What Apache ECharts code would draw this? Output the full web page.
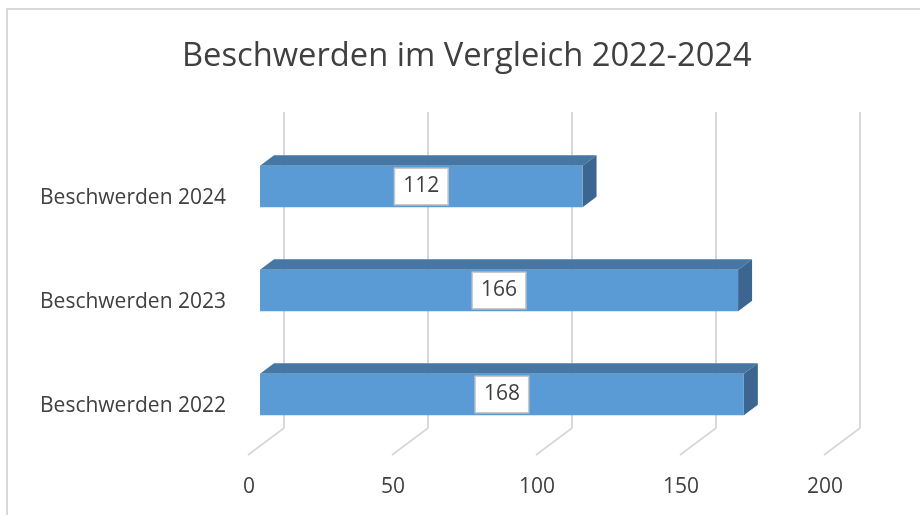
<!DOCTYPE html>
<html lang="de">
<head>
    <meta charset="utf-8">
    <title>Beschwerden im Vergleich 2022-2024</title>
    <script src="https://cdn.jsdelivr.net/npm/echarts@6/dist/echarts.min.js"></script>
    <style>
        html, body { margin: 0; padding: 0; background: #fff; }
        #chart { width: 920px; height: 515px; }
    </style>
</head>
<body>
<div id="chart"></div>
<script>
// data (bottom to top, like the category axis)
var categories = ['Beschwerden 2022', 'Beschwerden 2023', 'Beschwerden 2024'];
var values = [168, 166, 112];
var tickValues = [0, 50, 100, 150, 200];

var FONT = '"Open Sans", "Noto Sans", sans-serif';
var TXT = '#404040';
// 3d look: depth offsets in px
var DX = 14, DY = -10.5;

var chart = echarts.init(document.getElementById('chart'));

// back wall gridlines + floor diagonals
function renderWall(params, api) {
    var cs = params.coordSys;
    var x = api.coord([api.value(0), 0])[0] + 24;
    var yTop = cs.y - 22.5;
    var yBot = cs.y + cs.height - 18.5;
    var st = { stroke: '#d9d9d9', lineWidth: 2 };
    return {
        type: 'group',
        children: [
            { type: 'line', shape: { x1: x, y1: yTop, x2: x, y2: yBot }, style: st },
            { type: 'line', shape: { x1: x, y1: yBot, x2: x - 36, y2: yBot + 27 }, style: st }
        ]
    };
}

// bar drawn as front face + top face + right side
function renderBar(params, api) {
    var v = api.value(0);
    var p0 = api.coord([0, api.value(1)]);
    var p1 = api.coord([v, api.value(1)]);
    var h = api.size([0, 1])[1] * 0.4;
    var x0 = p0[0], x1 = p1[0];
    var yT = p0[1] - h / 2, yB = p0[1] + h / 2;
    return {
        type: 'group',
        children: [
            { type: 'polygon', shape: { points: [[x0, yT], [x1, yT], [x1 + DX, yT + DY], [x0 + DX, yT + DY]] },
              style: { fill: '#4676a3' } },
            { type: 'polygon', shape: { points: [[x1, yT], [x1 + DX, yT + DY], [x1 + DX, yB + DY], [x1, yB]] },
              style: { fill: '#3c6690' } },
            { type: 'rect', shape: { x: x0, y: yT, width: x1 - x0, height: h },
              style: { fill: '#5b9bd5' } },
            { type: 'text', x: (x0 + x1) / 2, y: p0[1],
              style: {
                  text: String(v), font: '21px ' + FONT, fill: TXT,
                  align: 'center', verticalAlign: 'middle',
                  backgroundColor: '#fff', borderColor: '#c9c9c9', borderWidth: 1.5,
                  padding: [8, 8, 6, 8]
              } }
        ]
    };
}

var option = {
    animation: false,
    title: {
        text: 'Beschwerden im Vergleich 2022-2024',
        left: 177,
        top: 35,
        textStyle: { fontFamily: FONT, fontSize: 32.7, fontWeight: 'normal', color: TXT }
    },
    graphic: [
        { type: 'line', shape: { x1: 6, y1: 9, x2: 920, y2: 9 }, style: { stroke: '#d9d9d9', lineWidth: 2 } },
        { type: 'line', shape: { x1: 7, y1: 8, x2: 7, y2: 515 }, style: { stroke: '#d9d9d9', lineWidth: 2 } }
    ],
    grid: { left: 260, width: 576, top: 134.5, height: 312 },
    xAxis: {
        type: 'value', min: 0, max: 200, interval: 50,
        axisLine: { show: false }, axisTick: { show: false }, splitLine: { show: false },
        axisLabel: { color: TXT, fontFamily: FONT, fontSize: 21, margin: 30, padding: [0, 22, 0, 0] }
    },
    yAxis: {
        type: 'category', data: categories,
        axisLine: { show: false }, axisTick: { show: false },
        axisLabel: { color: TXT, fontFamily: FONT, fontSize: 21, margin: 34,
                     verticalAlign: 'top', lineHeight: 23 }
    },
    series: [{
        type: 'custom',
        renderItem: renderWall,
        data: tickValues.map(function (t) { return [t, 0]; }),
        encode: { x: 0, y: 1 },
        z: 1, silent: true
    }, {
        type: 'custom',
        renderItem: renderBar,
        data: values.map(function (v, i) { return [v, i]; }),
        encode: { x: 0, y: 1 },
        z: 2
    }]
};

chart.setOption(option);
</script>
</body>
</html>
